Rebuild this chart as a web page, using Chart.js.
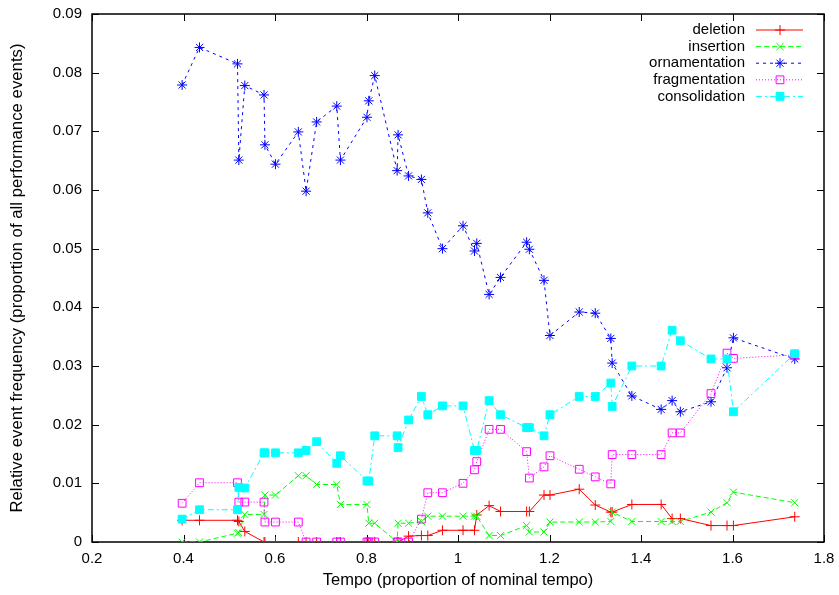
<!DOCTYPE html>
<html>
<head>
<meta charset="utf-8">
<title>Relative event frequency vs tempo</title>
<script src="https://cdn.jsdelivr.net/npm/chart.js@4.4.1/dist/chart.umd.min.js"></script>
<style>
  html, body { margin: 0; padding: 0; background: #fff; }
  #wrap { width: 839px; height: 595px; }
</style>
</head>
<body>
<div id="wrap"><canvas id="eventChart" width="839" height="595"></canvas></div>
<script>
// Tempo of each performance (proportion of nominal tempo), shared by all series
const tempo = [0.397, 0.435, 0.518, 0.521, 0.534, 0.576, 0.578, 0.601, 0.651, 0.668,
               0.691, 0.735, 0.743, 0.801, 0.805, 0.818, 0.867, 0.869, 0.892, 0.920,
               0.934, 0.966, 1.011, 1.036, 1.041, 1.068, 1.093, 1.150, 1.156, 1.188,
               1.201, 1.265, 1.300, 1.334, 1.337, 1.380, 1.444, 1.468, 1.486, 1.553,
               1.588, 1.602, 1.736];

const deletion = [0.0037, 0.0037, 0.0037, 0.0035, 0.0018, 0, 0, 0, 0, 0,
                  0, 0, 0, 0, 0, 0, 0, 0, 0.0010, 0.0011,
                  0.0011, 0.0020, 0.0020, 0.0020, 0.0046, 0.0062, 0.0052, 0.0052, 0.0052, 0.0080,
                  0.0080, 0.0090, 0.0063, 0.0051, 0.0051, 0.0064, 0.0064, 0.0040, 0.0040, 0.0028,
                  0.0028, 0.0028, 0.0043];

const insertion = [0, 0, 0.0015, 0.0016, 0.0047, 0.0047, 0.0080, 0.0080, 0.0113, 0.0113,
                   0.0098, 0.0098, 0.0064, 0.0064, 0.0032, 0.0032, 0, 0.0032, 0.0032, 0.0035,
                   0.0044, 0.0044, 0.0044, 0.0044, 0.0044, 0.0011, 0.0011, 0.0028, 0.0017, 0.0017,
                   0.0034, 0.0034, 0.0034, 0.0035, 0.0051, 0.0035, 0.0035, 0.0035, 0.0035, 0.0051,
                   0.0067, 0.0085, 0.0067];

const ornamentation = [0.0779, 0.0843, 0.0815, 0.0651, 0.0778, 0.0762, 0.0677, 0.0644, 0.0699, 0.0598,
                       0.0716, 0.0743, 0.0651, 0.0724, 0.0752, 0.0795, 0.0633, 0.0694, 0.0624, 0.0618,
                       0.0561, 0.0500, 0.0539, 0.0496, 0.0509, 0.0422, 0.0451, 0.0511, 0.0499, 0.0446,
                       0.0352, 0.0392, 0.0390, 0.0347, 0.0305, 0.0249, 0.0226, 0.0241, 0.0222, 0.0239,
                       0.0297, 0.0348, 0.0312];

const fragmentation = [0.0066, 0.0101, 0.0101, 0.0068, 0.0068, 0.0068, 0.0034, 0.0034, 0.0034, 0,
                       0, 0, 0, 0, 0, 0, 0, 0, 0, 0.0039,
                       0.0084, 0.0084, 0.0100, 0.0123, 0.0137, 0.0192, 0.0192, 0.0154, 0.0109, 0.0128,
                       0.0147, 0.0124, 0.0111, 0.0099, 0.0149, 0.0149, 0.0149, 0.0186, 0.0186, 0.0253,
                       0.0322, 0.0313, 0.0319];

const consolidation = [0.0039, 0.0055, 0.0055, 0.0093, 0.0092, 0.0152, 0.0152, 0.0152, 0.0152, 0.0156,
                       0.0171, 0.0134, 0.0147, 0.0104, 0.0104, 0.0181, 0.0181, 0.0161, 0.0208, 0.0248,
                       0.0217, 0.0232, 0.0232, 0.0156, 0.0156, 0.0241, 0.0217, 0.0195, 0.0195, 0.0181,
                       0.0217, 0.0248, 0.0248, 0.0271, 0.0231, 0.0300, 0.0300, 0.0361, 0.0343, 0.0312,
                       0.0312, 0.0222, 0.0321];

// Tick values and their labels
const xTickValues = [0.2, 0.4, 0.6, 0.8, 1.0, 1.2, 1.4, 1.6, 1.8];
const xTickLabels = ['0.2', '0.4', '0.6', '0.8', '1', '1.2', '1.4', '1.6', '1.8'];
const yTickValues = [0, 0.01, 0.02, 0.03, 0.04, 0.05, 0.06, 0.07, 0.08, 0.09];
const yTickLabels = ['0', '0.01', '0.02', '0.03', '0.04', '0.05', '0.06', '0.07', '0.08', '0.09'];

const FONT = '"Liberation Sans", Arial, Helvetica, sans-serif';

function points(values) {
    return tempo.map((t, i) => ({ x: t, y: values[i] }));
}

function series(label, values, color, dash, style, radius, fill, order) {
    return {
        label: label,
        data: points(values),
        showLine: true,
        borderColor: color,
        backgroundColor: color,
        borderWidth: 1,
        borderDash: dash,
        pointStyle: style,
        pointRadius: radius,
        pointBorderWidth: 1,
        pointBorderColor: color,
        pointBackgroundColor: fill,
        tension: 0,
        order: order
    };
}

// gnuplot style frame: full border with inward ticks on all four sides
const framePlugin = {
    id: 'frame',
    beforeDatasetsDraw(chart) {
        const { ctx, chartArea: a, scales } = chart;
        const len = 7;
        ctx.save();
        ctx.strokeStyle = '#000';
        ctx.lineWidth = 1;
        ctx.beginPath();
        xTickValues.forEach(v => {
            const px = Math.round(scales.x.getPixelForValue(v)) + 0.5;
            ctx.moveTo(px, a.bottom); ctx.lineTo(px, a.bottom - len);
            ctx.moveTo(px, a.top); ctx.lineTo(px, a.top + len);
        });
        yTickValues.forEach(v => {
            const py = Math.round(scales.y.getPixelForValue(v)) + 0.5;
            ctx.moveTo(a.left, py); ctx.lineTo(a.left + len, py);
            ctx.moveTo(a.right, py); ctx.lineTo(a.right - len, py);
        });
        ctx.stroke();
        ctx.lineWidth = 1.5;
        ctx.strokeRect(a.left, a.top, a.right - a.left, a.bottom - a.top);
        ctx.restore();
    }
};

// key in the top right corner: right-aligned text, line sample with marker
const keyPlugin = {
    id: 'keyBox',
    afterDraw(chart) {
        const { ctx, chartArea: a } = chart;
        ctx.save();
        ctx.font = '15px ' + FONT;
        ctx.textAlign = 'right';
        ctx.textBaseline = 'middle';
        chart.data.datasets.forEach((ds, i) => {
            const yy = a.top + 16 + i * 16.6;
            ctx.fillStyle = '#000';
            ctx.fillText(ds.label, a.right - 79, yy);
            ctx.strokeStyle = ds.borderColor;
            ctx.lineWidth = 1;
            ctx.setLineDash(ds.borderDash);
            ctx.beginPath();
            ctx.moveTo(a.right - 68, yy);
            ctx.lineTo(a.right - 21, yy);
            ctx.stroke();
            ctx.setLineDash([]);
            ctx.fillStyle = ds.pointBackgroundColor;
            Chart.helpers.drawPoint(ctx, {
                pointStyle: ds.pointStyle, radius: ds.pointRadius, rotation: 0, borderWidth: 1
            }, a.right - 44, yy);
        });
        ctx.restore();
    }
};

const ctx = document.getElementById('eventChart');
const chart = new Chart(ctx, {
    type: 'scatter',
    data: {
        datasets: [
            series('deletion', deletion, '#ff0000', [], 'cross', 5, '#ff0000', 5),
            series('insertion', insertion, '#00ff00', [5, 3], 'crossRot', 5, '#00ff00', 4),
            series('ornamentation', ornamentation, '#0000ff', [3, 4], 'star', 5, '#0000ff', 3),
            series('fragmentation', fragmentation, '#ff00ff', [1, 2], 'rect', 5.5, 'rgba(0,0,0,0)', 2),
            series('consolidation', consolidation, '#00ffff', [6, 3, 2, 3], 'rect', 5.5, '#00ffff', 1)
        ]
    },
    options: {
        responsive: false,
        animation: false,
        events: [],
        layout: { padding: { left: 0, right: 15, top: 14, bottom: 0 } },
        plugins: {
            legend: { display: false },
            tooltip: { enabled: false }
        },
        scales: {
            x: {
                type: 'linear',
                min: 0.2,
                max: 1.8,
                afterBuildTicks: scale => { scale.ticks = xTickValues.map(v => ({ value: v })); },
                afterFit: scale => {
                    scale.height = 53;
                    scale.paddingLeft = 0;
                    scale.paddingRight = 0;
                },
                grid: { display: false, drawTicks: false },
                border: { display: false },
                ticks: {
                    padding: 8,
                    color: '#000',
                    font: { family: FONT, size: 15 },
                    maxRotation: 0,
                    callback: (v, i) => xTickLabels[i]
                },
                title: {
                    display: true,
                    text: 'Tempo (proportion of nominal tempo)',
                    color: '#000',
                    font: { family: FONT, size: 16.5 },
                    padding: { top: 0, bottom: 5 }
                }
            },
            y: {
                type: 'linear',
                min: 0,
                max: 0.09,
                afterBuildTicks: scale => { scale.ticks = yTickValues.map(v => ({ value: v })); },
                afterFit: scale => {
                    scale.width = 92;
                    scale.paddingTop = 0;
                    scale.paddingBottom = 0;
                },
                grid: { display: false, drawTicks: false },
                border: { display: false },
                ticks: {
                    padding: 10,
                    color: '#000',
                    font: { family: FONT, size: 15 },
                    callback: (v, i) => yTickLabels[i]
                },
                title: {
                    display: true,
                    text: 'Relative event frequency (proportion of all performance events)',
                    color: '#000',
                    font: { family: FONT, size: 16.8 },
                    padding: { top: 7, bottom: 0 }
                }
            }
        }
    },
    plugins: [framePlugin, keyPlugin]
});
</script>
</body>
</html>
